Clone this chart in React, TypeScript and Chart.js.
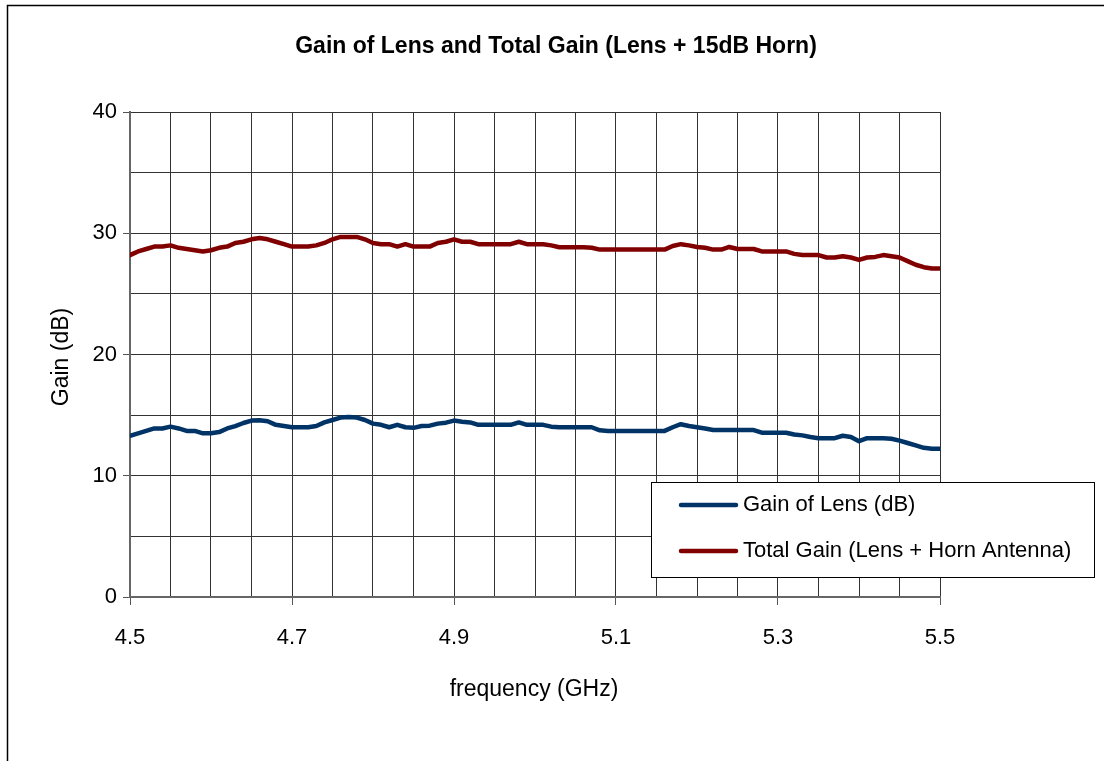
import React, { useEffect, useRef } from "react";
import { Chart, registerables } from "chart.js";

Chart.register(...registerables);

const FREQ_GHZ = [
  4.5, 4.51, 4.52, 4.53, 4.54, 4.55, 4.56, 4.57, 4.58, 4.59,
  4.6, 4.61, 4.62, 4.63, 4.64, 4.65, 4.66, 4.67, 4.68, 4.69,
  4.7, 4.71, 4.72, 4.73, 4.74, 4.75, 4.76, 4.77, 4.78, 4.79,
  4.8, 4.81, 4.82, 4.83, 4.84, 4.85, 4.86, 4.87, 4.88, 4.89,
  4.9, 4.91, 4.92, 4.93, 4.94, 4.95, 4.96, 4.97, 4.98, 4.99,
  5.0, 5.01, 5.02, 5.03, 5.04, 5.05, 5.06, 5.07, 5.08, 5.09,
  5.1, 5.11, 5.12, 5.13, 5.14, 5.15, 5.16, 5.17, 5.18, 5.19,
  5.2, 5.21, 5.22, 5.23, 5.24, 5.25, 5.26, 5.27, 5.28, 5.29,
  5.3, 5.31, 5.32, 5.33, 5.34, 5.35, 5.36, 5.37, 5.38, 5.39,
  5.4, 5.41, 5.42, 5.43, 5.44, 5.45, 5.46, 5.47, 5.48, 5.49,
  5.5,
];

const LENS_GAIN_DB = [
  13.3, 13.5, 13.7, 13.9, 13.9, 14.05, 13.9, 13.7, 13.7, 13.5,
  13.5, 13.6, 13.9, 14.1, 14.35, 14.55, 14.57, 14.5, 14.2, 14.1,
  14.0, 14.0, 14.0, 14.1, 14.4, 14.6, 14.8, 14.85, 14.8, 14.6,
  14.3, 14.2, 14.0, 14.2, 14.0, 13.95, 14.1, 14.13, 14.3, 14.38,
  14.55, 14.45, 14.4, 14.2, 14.2, 14.2, 14.2, 14.2, 14.4, 14.2,
  14.2, 14.2, 14.05, 14.0, 14.0, 14.0, 14.0, 14.0, 13.75, 13.7,
  13.7, 13.7, 13.7, 13.7, 13.7, 13.7, 13.7, 14.0, 14.25, 14.1,
  14.0, 13.9, 13.77, 13.77, 13.77, 13.77, 13.77, 13.77, 13.55, 13.55,
  13.55, 13.55, 13.4, 13.33, 13.2, 13.1, 13.1, 13.1, 13.3, 13.2,
  12.85, 13.1, 13.1, 13.1, 13.05, 12.9, 12.7, 12.5, 12.3, 12.23,
  12.23,
];

const TOTAL_GAIN_DB = [
  28.2, 28.5, 28.7, 28.9, 28.9, 29.0, 28.8, 28.7, 28.6, 28.5,
  28.6, 28.8, 28.9, 29.2, 29.3, 29.5, 29.6, 29.5, 29.3, 29.1,
  28.9, 28.9, 28.9, 29.0, 29.2, 29.5, 29.7, 29.7, 29.7, 29.5,
  29.2, 29.1, 29.1, 28.9, 29.1, 28.9, 28.9, 28.9, 29.2, 29.3,
  29.5, 29.3, 29.3, 29.1, 29.1, 29.1, 29.1, 29.1, 29.3, 29.1,
  29.1, 29.1, 29.0, 28.85, 28.85, 28.85, 28.85, 28.8, 28.65, 28.65,
  28.65, 28.65, 28.65, 28.65, 28.65, 28.65, 28.65, 28.95, 29.1, 29.0,
  28.87, 28.8, 28.65, 28.65, 28.87, 28.7, 28.7, 28.7, 28.5, 28.5,
  28.5, 28.5, 28.3, 28.2, 28.2, 28.2, 28.0, 28.0, 28.1, 28.0,
  27.8, 28.0, 28.05, 28.2, 28.1, 28.0, 27.7, 27.4, 27.2, 27.1,
  27.1,
];

const X_TICK_LABELS = [4.5, 4.7, 4.9, 5.1, 5.3, 5.5];
const Y_TICK_LABELS = [0, 10, 20, 30, 40];

const SERIES_NAMES = ["Gain of Lens (dB)", "Total Gain (Lens + Horn Antenna)"];
const SERIES_COLORS = ["#003366", "#800000"];

const TITLE = "Gain of Lens and Total Gain (Lens + 15dB Horn)";
const X_TITLE = "frequency (GHz)";
const Y_TITLE = "Gain (dB)";

const FONT = '"Liberation Sans Narrow", "Arial Narrow", "Liberation Sans", Arial, sans-serif';

const W = 1104;
const H = 761;
const AREA = { left: 130, top: 112, right: 940, bottom: 597 };

const isXLabel = (v: number) => X_TICK_LABELS.some((t) => Math.abs(t - v) < 1e-6);
const isYLabel = (v: number) => Y_TICK_LABELS.some((t) => Math.abs(t - v) < 1e-6);

const decorPlugin = {
  id: "decor",
  beforeDraw(chart: any) {
    const ctx = chart.ctx;
    ctx.save();
    ctx.fillStyle = "#ffffff";
    ctx.fillRect(0, 0, W, H);
    ctx.restore();
  },
  afterDraw(chart: any) {
    const ctx = chart.ctx;
    ctx.save();
    // outer frame
    ctx.strokeStyle = "#000";
    ctx.lineWidth = 1.5;
    ctx.beginPath();
    ctx.moveTo(7.5, H + 2);
    ctx.lineTo(7.5, 5.5);
    ctx.lineTo(W + 2, 5.5);
    ctx.stroke();

    ctx.fillStyle = "#000";
    // title
    ctx.font = `bold 23px ${FONT}`;
    ctx.textAlign = "center";
    ctx.textBaseline = "middle";
    ctx.fillText(TITLE, 556, 47);

    // axis titles
    ctx.font = `23px ${FONT}`;
    ctx.fillText(X_TITLE, 534, 690);
    ctx.save();
    ctx.translate(62, 357);
    ctx.rotate(-Math.PI / 2);
    ctx.fillText(Y_TITLE, 0, 0);
    ctx.restore();

    // legend
    const bx = 651.5, by = 482.5, bw = 443, bh = 95;
    ctx.fillStyle = "#fff";
    ctx.fillRect(bx, by, bw, bh);
    ctx.strokeStyle = "#000";
    ctx.lineWidth = 1;
    ctx.strokeRect(bx, by, bw, bh);
    const ys = [505, 551];
    chart.data.datasets.forEach((ds: any, i: number) => {
      ctx.strokeStyle = ds.borderColor;
      ctx.lineWidth = 4.5;
      ctx.lineCap = "round";
      ctx.beginPath();
      ctx.moveTo(681, ys[i]);
      ctx.lineTo(736, ys[i]);
      ctx.stroke();
      ctx.fillStyle = "#000";
      ctx.font = `22px ${FONT}`;
      ctx.textAlign = "left";
      ctx.textBaseline = "middle";
      ctx.fillText(ds.label, 743, ys[i]);
    });
    ctx.restore();
  },
};

export default function App() {
  const ref = useRef<HTMLCanvasElement | null>(null);
  useEffect(() => {
    document.body.style.margin = "0";
    const canvas = ref.current;
    if (!canvas) return;
    const chart = new Chart(canvas, {
      type: "line",
      data: {
        datasets: [LENS_GAIN_DB, TOTAL_GAIN_DB].map((vals, i) => ({
          label: SERIES_NAMES[i],
          data: FREQ_GHZ.map((f, j) => ({ x: f, y: vals[j] })),
          borderColor: SERIES_COLORS[i],
          backgroundColor: SERIES_COLORS[i],
          borderWidth: 4.5,
          pointRadius: 0,
          tension: 0,
          borderJoinStyle: "round" as const,
          borderCapStyle: "round" as const,
        })),
      },
      options: {
        responsive: false,
        animation: false,
        devicePixelRatio: 1,
        layout: {
          padding: { left: 0, top: AREA.top, right: W - AREA.right, bottom: 0 },
        },
        plugins: {
          legend: { display: false },
          title: { display: false },
          tooltip: { enabled: false },
        },
        scales: {
          x: {
            type: "linear",
            min: 4.5,
            max: 5.5,
            afterFit: (s: any) => {
              s.height = H - AREA.bottom;
            },
            afterBuildTicks: (s: any) => {
              const t = [];
              for (let k = 0; k <= 20; k++) t.push({ value: Math.round((4.5 + k * 0.05) * 100) / 100 });
              s.ticks = t;
            },
            ticks: {
              autoSkip: false,
              maxRotation: 0,
              padding: 20,
              color: "#000",
              font: { family: FONT, size: 22 },
              callback: (v: any) => (isXLabel(Number(v)) ? Number(v).toFixed(1) : ""),
            },
            grid: {
              color: "#333",
              lineWidth: 1,
              tickLength: 8,
              tickColor: (c: any) => (c.tick && isXLabel(c.tick.value) ? "#555" : "rgba(0,0,0,0)"),
            },
            border: { color: "#666", width: 2 },
          },
          y: {
            type: "linear",
            min: 0,
            max: 40,
            afterFit: (s: any) => {
              s.width = AREA.left;
            },
            afterBuildTicks: (s: any) => {
              const t = [];
              for (let k = 0; k <= 8; k++) t.push({ value: k * 5 });
              s.ticks = t;
            },
            ticks: {
              autoSkip: false,
              padding: 6,
              color: "#000",
              font: { family: FONT, size: 22 },
              callback: (v: any) => (isYLabel(Number(v)) ? String(v) : ""),
            },
            grid: {
              color: "#333",
              lineWidth: 1,
              tickLength: 7,
              tickColor: (c: any) => (c.tick && isYLabel(c.tick.value) ? "#555" : "rgba(0,0,0,0)"),
            },
            border: { color: "#666", width: 2 },
          },
        },
      },
      plugins: [decorPlugin],
    });
    return () => chart.destroy();
  }, []);
  return (
    <canvas ref={ref} width={W} height={H} style={{ display: "block", width: W, height: H }} />
  );
}
